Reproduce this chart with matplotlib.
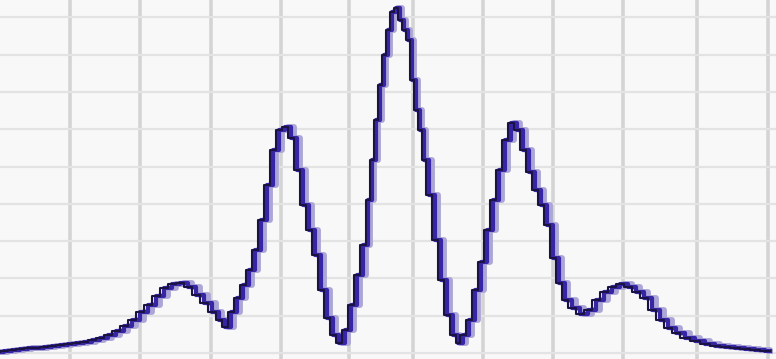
import numpy as np
import matplotlib
matplotlib.use("Agg")
import matplotlib.pyplot as plt
from matplotlib.ticker import FixedLocator, MultipleLocator

# detector position (px along the strip) and measured intensity
position = [0, 8, 16, 24, 32, 40, 48, 56, 64, 72, 80, 88, 96, 104, 112, 120, 128,
            136, 144, 152, 160, 168, 176, 184, 192, 200, 208, 216, 222, 228, 234,
            240, 246, 252, 258, 264, 270, 276, 282, 288, 294, 300, 306, 312, 318,
            324, 330, 336, 342, 348, 354, 360, 366, 370, 374, 378, 382, 386, 390,
            394, 398, 402, 406, 410, 414, 418, 422, 426, 432, 438, 444, 450, 456,
            460, 466, 472, 478, 484, 490, 496, 502, 508, 514, 520, 526, 532, 538,
            544, 550, 556, 562, 568, 576, 584, 592, 600, 608, 616, 624, 632, 640,
            648, 656, 664, 672, 680, 690, 700, 710, 720, 730, 740, 750, 760, 770]
intensity = [1, 2, 3, 4, 5, 5, 6, 7, 8, 9, 10, 11, 13, 15, 18, 22, 27,
             33, 41, 48, 57, 65, 69, 70, 66, 58, 50, 41, 33, 26, 41,
             55, 68, 83, 103, 133, 168, 203, 223, 226, 215, 183, 148, 123, 98,
             63, 35, 18, 10, 23, 48, 78, 108, 153, 193, 233, 268, 298, 323,
             341, 345, 333, 323, 313, 273, 243, 223, 193, 158, 113, 73, 38, 18,
             10, 18, 33, 63, 91, 123, 153, 183, 213, 230, 223, 203, 181, 163,
             148, 128, 95, 70, 53, 45, 39, 43, 53, 61, 66, 69, 66, 61,
             55, 43, 33, 25, 20, 15, 12, 9, 7, 6, 5, 4, 3, 2]

# positions of the ruled lines on the scan
grid_x = [70, 140, 211, 281, 349, 413, 483, 553, 623, 697, 768]

x = np.array(position)
y = np.array(intensity)

fig = plt.figure(figsize=(7.76, 3.59), dpi=100)
ax = fig.add_axes([0, 0, 1, 1])
fig.patch.set_facecolor('#f8f8f8')
ax.set_facecolor('#f8f8f8')

ax.xaxis.set_major_locator(FixedLocator(grid_x))
ax.yaxis.set_major_locator(MultipleLocator(37.3))
ax.grid(True, axis='x', color='#d4d4d4', linewidth=2.6, zorder=0)
ax.grid(True, axis='y', color='#e3e3e3', linewidth=1.6, zorder=0)
ax.axhline(0, color='#b4b4b4', linewidth=1.2, zorder=1)

ax.step(x, y, where='post', color='#aca6d6', linewidth=4.2, zorder=2)
ax.step(x, y, where='mid', color='#3626a6', linewidth=3, zorder=3)
ax.step(x, y, where='pre', color='#1a1240', linewidth=1.5, zorder=4)

ax.set_xlim(0, 776)
ax.set_ylim(-6, 353)
ax.tick_params(length=0, labelbottom=False, labelleft=False)
for s in ax.spines.values():
    s.set_visible(False)

fig.savefig('out.png', dpi=100, facecolor=fig.get_facecolor())
